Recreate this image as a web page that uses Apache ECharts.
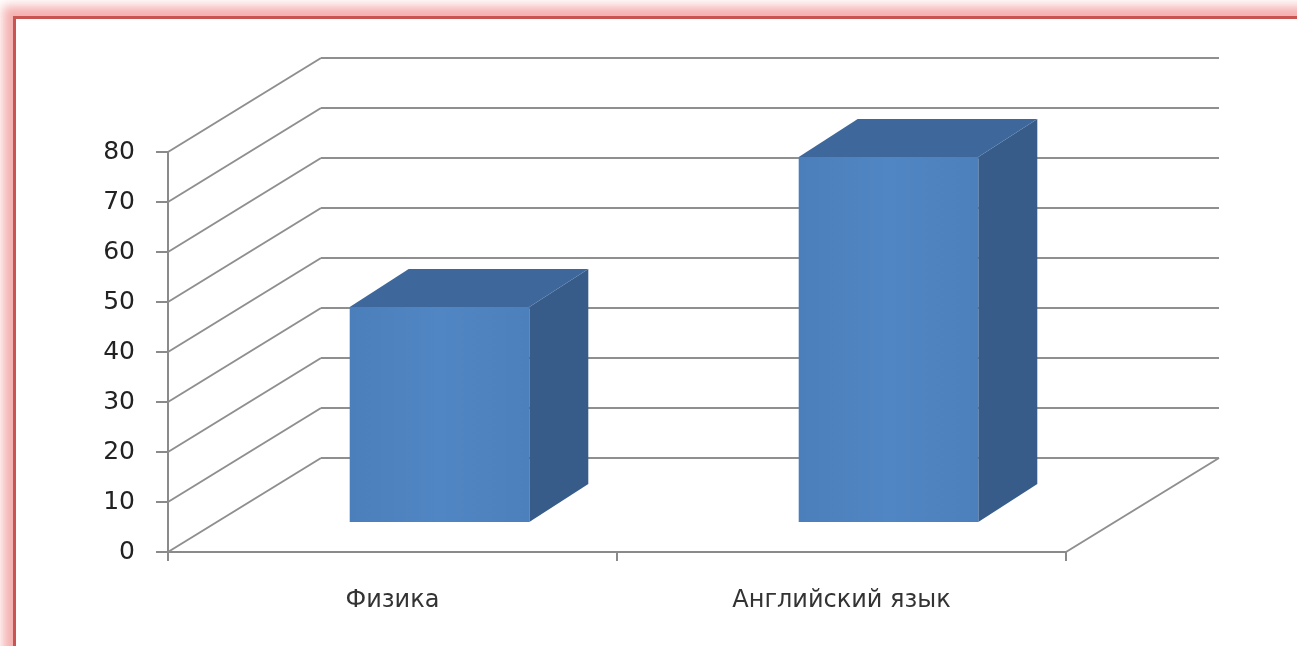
<!DOCTYPE html>
<html>
<head>
<meta charset="utf-8">
<script src="https://cdn.jsdelivr.net/npm/echarts@6/dist/echarts.min.js"></script>
<style>
  html, body { margin: 0; padding: 0; width: 1297px; height: 646px; overflow: hidden; background: #ffffff; }
  #frame { position: absolute; left: 13px; top: 16px; width: 1400px; height: 800px;
           border-left: 3px solid #c85552; border-top: 3px solid #c85552;
           box-shadow: 0 0 10px 10px rgba(242, 150, 150, 0.75); background: #fff; }
  #chart { position: absolute; left: 0; top: 0; width: 1297px; height: 646px; }
</style>
</head>
<body>
<div id="frame"></div>
<div id="chart"></div>
<script>
// ---- data ----
const categories = ['Физика', 'Английский язык'];
const values = [43, 73];
const yTicks = [0, 10, 20, 30, 40, 50, 60, 70, 80];

// ---- 3D look constants (layout only) ----
const WALL_DX = 153, WALL_DY = -94;   // depth of the back wall
const FACE_DX = 47,  FACE_DY = -30;   // front face of bars
const BAR_DX = 59,   BAR_DY = -38;    // bar depth
const BAR_FRAC = 0.4;

const chart = echarts.init(document.getElementById('chart'));

const option = {
  animation: false,
  backgroundColor: 'transparent',
  grid: { left: 168, top: 152, width: 898, height: 400, containLabel: false },
  xAxis: {
    type: 'category',
    data: categories,
    axisLine: { show: true, lineStyle: { color: '#8a8a8a', width: 2 } },
    axisTick: { show: true, length: 9, alignWithLabel: false, lineStyle: { color: '#8a8a8a', width: 2 } },
    axisLabel: { color: '#333333', fontSize: 24, margin: 37, fontFamily: 'DejaVu Sans' },
    splitLine: { show: false }
  },
  yAxis: {
    type: 'value',
    min: 0, max: 80, interval: 10,
    axisLine: { show: true, lineStyle: { color: '#8a8a8a', width: 2 } },
    axisTick: { show: true, length: 12, inside: false, lineStyle: { color: '#8a8a8a', width: 2 } },
    axisLabel: { color: '#222222', fontSize: 25, margin: 33, fontFamily: 'DejaVu Sans' },
    splitLine: { show: false }
  },
  series: [
    {
      type: 'custom',
      name: 'walls',
      silent: true,
      z: 1,
      data: yTicks.map(v => [0, v]),
      renderItem: function (params, api) {
        const cs = params.coordSys;
        const v = api.value(1);
        const y = api.coord([0, v])[1];
        const x0 = cs.x;
        const x1 = x0 + WALL_DX, y1 = y + WALL_DY;
        const x2 = cs.x + cs.width + WALL_DX;
        const style = { stroke: '#8f8f8f', lineWidth: 2, fill: null };
        const children = [
          { type: 'line', shape: { x1: x0, y1: y, x2: x1, y2: y1 }, style: style },
          { type: 'line', shape: { x1: x1, y1: y1, x2: x2, y2: y1 }, style: style }
        ];
        if (v === 0) {
          const xr = cs.x + cs.width;
          children.push({ type: 'line', shape: { x1: xr, y1: y, x2: xr + WALL_DX, y2: y + WALL_DY }, style: style });
        }
        return { type: 'group', children: children };
      }
    },
    {
      type: 'custom',
      name: 'bars',
      z: 5,
      data: values.map((v, i) => [i, v]),
      renderItem: function (params, api) {
        const idx = api.value(0);
        const top = api.coord([idx, api.value(1)]);
        const base = api.coord([idx, 0]);
        const w = api.size([1, 0])[0] * BAR_FRAC;
        const l = top[0] + FACE_DX - w / 2;
        const r = top[0] + FACE_DX + w / 2;
        const t = top[1] + FACE_DY;
        const b = base[1] + FACE_DY;
        return {
          type: 'group',
          children: [
            {
              type: 'polygon',
              shape: { points: [[r, t], [r + BAR_DX, t + BAR_DY], [r + BAR_DX, b + BAR_DY], [r, b]] },
              style: { fill: '#375c8a' }
            },
            {
              type: 'polygon',
              shape: { points: [[l, t], [l + BAR_DX, t + BAR_DY], [r + BAR_DX, t + BAR_DY], [r, t]] },
              style: { fill: '#3e689c' }
            },
            {
              type: 'rect',
              shape: { x: l, y: t, width: r - l, height: b - t },
              style: {
                fill: new echarts.graphic.LinearGradient(0, 0, 1, 0, [
                  { offset: 0, color: '#4b7fbc' },
                  { offset: 0.5, color: '#5086c3' },
                  { offset: 1, color: '#4c80bd' }
                ])
              }
            }
          ]
        };
      }
    }
  ]
};
chart.setOption(option);
</script>
</body>
</html>
